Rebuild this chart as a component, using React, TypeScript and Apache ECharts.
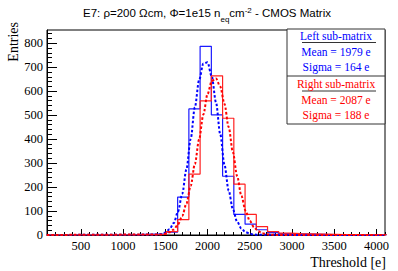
import React, { useEffect, useRef } from "react";
import * as echarts from "echarts";

// Histogram binning (low edge of first bin, bin width) in electrons
const histStart = 50;
const binWidth = 133;

const leftCounts = [
  0, 0, 0, 0, 0, 0, 0, 1, 3, 4, 5, 12, 158, 526, 787, 501, 245, 86, 45, 22, 10, 6, 5, 4, 3, 2, 1, 1, 0, 0, 0,
];
const rightCounts = [
  0, 0, 0, 0, 0, 0, 0, 0, 1, 1, 2, 14, 64, 254, 559, 664, 487, 212, 86, 35, 14, 8, 6, 5, 4, 3, 2, 2, 1, 1, 1,
];

// Fitted curves
const leftFitX = [100, 1400, 1450, 1500, 1550, 1600, 1650, 1700, 1750, 1800, 1850, 1900, 1950, 2000, 2050, 2100, 2150, 2200, 2250, 2300, 2350, 2400, 2450, 2500, 2550, 2600, 4100];
const leftFitY = [0, 1.4, 4, 10, 24, 50, 97, 171, 274, 400, 533, 646, 715, 720, 661, 553, 421, 293, 185, 107, 56, 27, 12, 5, 2, 0.6, 0];
const rightFitX = [100, 1450, 1500, 1550, 1600, 1650, 1700, 1750, 1800, 1850, 1900, 1950, 2000, 2050, 2100, 2150, 2200, 2250, 2300, 2350, 2400, 2450, 2500, 2550, 2600, 2650, 2700, 2750, 2800, 4100];
const rightFitY = [0, 2, 5, 11, 23, 44, 79, 131, 204, 296, 399, 502, 588, 642, 653, 619, 547, 450, 345, 246, 164, 101, 59, 32, 16, 7, 3, 1.3, 0.5, 0];

const xMajorTicks = [500, 1000, 1500, 2000, 2500, 3000, 3500, 4000];
const xMinorTicks = [
  200, 300, 400, 600, 700, 800, 900, 1100, 1200, 1300, 1400, 1600, 1700, 1800, 1900, 2100, 2200, 2300, 2400, 2600,
  2700, 2800, 2900, 3100, 3200, 3300, 3400, 3600, 3700, 3800, 3900, 4100,
];
const yMajorTicks = [0, 100, 200, 300, 400, 500, 600, 700, 800];
const yMinorTicks = [
  20, 40, 60, 80, 120, 140, 160, 180, 220, 240, 260, 280, 320, 340, 360, 380, 420, 440, 460, 480, 520, 540, 560, 580,
  620, 640, 660, 680, 720, 740, 760, 780, 820, 840,
];

const xRange = [100, 4100];
const yRange = [0, 855];

const leftStats = { title: "Left sub-matrix", mean: "Mean = 1979 e", sigma: "Sigma = 164 e" };
const rightStats = { title: "Right sub-matrix", mean: "Mean = 2087 e", sigma: "Sigma = 188 e" };

function steps(counts: number[]) {
  const pts: number[][] = [[xRange[0], 0]];
  counts.forEach((c, i) => {
    const lo = histStart + i * binWidth;
    pts.push([lo, c], [lo + binWidth, c]);
  });
  return pts;
}

const SERIF = "Liberation Serif";
const SANS = "Liberation Sans";

export default function App() {
  const ref = useRef<HTMLDivElement>(null);
  useEffect(() => {
    if (!ref.current) return;
    const chart = echarts.init(ref.current, undefined, { renderer: "svg" });
    const black = { color: "#000", width: 1 };
    const zip = (xs: number[], ys: number[]) => xs.map((x, i) => [x, ys[i]]);
    const statText = (t: string, y: number, color: string) => ({
      type: "text",
      x: 336,
      y,
      z: 101,
      style: { text: t, fill: color, fontSize: 11.5, fontFamily: SERIF, textAlign: "center", textVerticalAlign: "middle" },
    });
    const label = {
      color: "#000",
      fontFamily: SERIF,
      fontSize: 12.5,
      margin: 4,
      formatter: (v: number) => String(v),
    };
    chart.setOption({
      animation: false,
      textStyle: { fontFamily: SERIF },
      grid: { left: 47, right: 13, top: 30, bottom: 36, show: true, borderColor: "#000", borderWidth: 1, backgroundColor: "transparent" },
      xAxis: [
        {
          type: "value",
          min: xRange[0],
          max: xRange[1],
          position: "bottom",
          axisLine: { show: true, lineStyle: black },
          axisTick: { show: true, inside: true, length: 6, customValues: xMajorTicks, lineStyle: black },
          axisLabel: { ...label, customValues: xMajorTicks },
          splitLine: { show: false },
        },
        {
          type: "value",
          min: xRange[0],
          max: xRange[1],
          position: "bottom",
          axisLine: { show: false },
          axisTick: { show: true, inside: true, length: 3, customValues: xMinorTicks, lineStyle: black },
          axisLabel: { show: false },
          splitLine: { show: false },
        },
      ],
      yAxis: [
        {
          type: "value",
          min: yRange[0],
          max: yRange[1],
          position: "left",
          axisLine: { show: true, lineStyle: black },
          axisTick: { show: true, inside: true, length: 10, customValues: yMajorTicks, lineStyle: black },
          axisLabel: { ...label, customValues: yMajorTicks },
          splitLine: { show: false },
        },
        {
          type: "value",
          min: yRange[0],
          max: yRange[1],
          position: "left",
          axisLine: { show: false },
          axisTick: { show: true, inside: true, length: 5, customValues: yMinorTicks, lineStyle: black },
          axisLabel: { show: false },
          splitLine: { show: false },
        },
      ],
      series: [
        {
          type: "line",
          data: steps(leftCounts),
          showSymbol: false,
          lineStyle: { color: "#1a1aff", width: 1.2 },
          itemStyle: { color: "#1a1aff" },
          z: 3,
        },
        {
          type: "line",
          data: zip(leftFitX, leftFitY),
          showSymbol: false,
          smooth: 0.3,
          smoothMonotone: "x",
          lineStyle: { color: "#0000ff", width: 2, type: [2.5, 2] },
          z: 4,
        },
        {
          type: "line",
          data: steps(rightCounts),
          showSymbol: false,
          lineStyle: { color: "#ff2020", width: 1.2 },
          itemStyle: { color: "#ff2020" },
          z: 5,
        },
        {
          type: "line",
          data: zip(rightFitX, rightFitY),
          showSymbol: false,
          smooth: 0.3,
          smoothMonotone: "x",
          lineStyle: { color: "#ff0000", width: 2, type: [2.5, 2] },
          z: 6,
        },
      ],
      graphic: [
        {
          type: "text",
          x: 207,
          y: 13,
          style: {
            text: "{a|E7: ρ=200 Ωcm, Φ=1e15 n}{sub|eq}{a|cm}{sup|-2}{a| - CMOS Matrix}",
            textAlign: "center",
            textVerticalAlign: "middle",
            rich: {
              a: { fontSize: 11.5, fontFamily: SANS, fill: "#000", lineHeight: 20, verticalAlign: "middle" },
              sub: { fontSize: 8, fontFamily: SANS, fill: "#000", lineHeight: 20, verticalAlign: "bottom" },
              sup: { fontSize: 8, fontFamily: SANS, fill: "#000", lineHeight: 20, verticalAlign: "top", padding: [3, 0, 0, 0] },
            },
          },
        },
        {
          type: "text",
          x: 13,
          y: 22,
          rotation: Math.PI / 2,
          style: { text: "Entries", fontSize: 14, fontFamily: SERIF, fill: "#000", textAlign: "right", textVerticalAlign: "middle" },
        },
        {
          type: "text",
          x: 386,
          y: 262,
          style: { text: "Threshold [e]", fontSize: 14, fontFamily: SERIF, fill: "#000", textAlign: "right", textVerticalAlign: "middle" },
        },
        {
          type: "rect",
          z: 100,
          shape: { x: 287, y: 29, width: 98, height: 95 },
          style: { fill: "#fff", stroke: "#333", lineWidth: 1 },
        },
        { type: "line", z: 101, shape: { x1: 287, y1: 76, x2: 385, y2: 76 }, style: { stroke: "#333", lineWidth: 1 } },
        { type: "line", z: 101, shape: { x1: 302, y1: 42.5, x2: 376, y2: 42.5 }, style: { stroke: "#333", lineWidth: 1 } },
        { type: "line", z: 101, shape: { x1: 302, y1: 91, x2: 376, y2: 91 }, style: { stroke: "#333", lineWidth: 1 } },
        statText(leftStats.title, 35.5, "#0000ff"),
        statText(leftStats.mean, 52, "#0000ff"),
        statText(leftStats.sigma, 67, "#0000ff"),
        statText(rightStats.title, 84, "#ff0000"),
        statText(rightStats.mean, 100, "#ff0000"),
        statText(rightStats.sigma, 114.5, "#ff0000"),
      ],
    });
    return () => chart.dispose();
  }, []);
  return <div ref={ref} style={{ width: 398, height: 271, position: "absolute", left: 0, top: 0 }} />;
}
